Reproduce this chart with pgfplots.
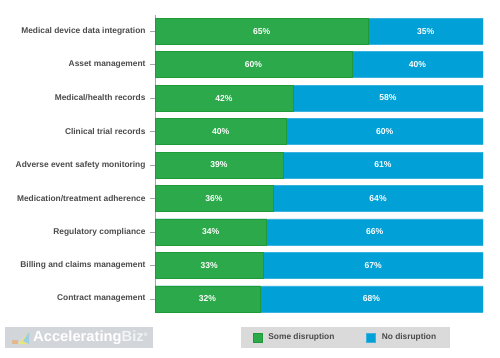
\documentclass[border=0pt]{standalone}
\usepackage{pgfplots}
\pgfplotsset{compat=1.18}
\usepackage{fontspec}
\setmainfont{Liberation Sans}
\definecolor{cgreen}{HTML}{2CA94A}
\definecolor{cgreenE}{HTML}{1E9A38}
\definecolor{cblue}{HTML}{01A0D6}
\definecolor{cblueE}{HTML}{3AB2E0}
\definecolor{lblgray}{HTML}{4A4A4A}
\definecolor{legbg}{HTML}{DADADA}
\definecolor{logobg}{HTML}{D2D6DA}
\begin{document}
\begin{tikzpicture}[x=1bp,y=1bp]
\useasboundingbox (0,0) rectangle (500,357);
\begin{axis}[
  at={(155bp,44bp)}, anchor=south west,
  scale only axis, width=328bp, height=298bp,
  xmin=0, xmax=100,
  ymin=-0.48, ymax=8.42, y dir=reverse,
  axis x line=none, axis y line*=left,
  axis line style={draw=gray!70},
  ytick={0,...,8},
  yticklabels={Medical device data integration, Asset management, Medical/health records, Clinical trial records, Adverse event safety monitoring, Medication/treatment adherence, Regulatory compliance, Billing and claims management, Contract management},
  yticklabel style={font=\bfseries\fontsize{8.4}{10}\selectfont, text=lblgray, xshift=-1bp},
  tick align=outside, major tick length=5bp,
  y tick style={draw=gray!70},
  legend columns=2,
  legend style={at={(0.581,-0.082)}, anchor=center, fill=legbg, draw=none,
    font=\bfseries\fontsize{8.4}{10}\selectfont, text=lblgray,
    inner xsep=12bp, inner ysep=4.5bp,
    /tikz/every odd column/.append style={column sep=4bp},
    /tikz/every even column/.append style={column sep=30bp}},
  legend image code/.code={\draw[#1] (0bp,-4.5bp) rectangle (9bp,4.5bp);},
]
% total (some + no disruption = 100) drawn as the blue bar, green on top
\addplot[xbar, bar width=26bp, bar shift=0pt, fill=cblue, draw=cblueE, forget plot] coordinates {(100,0) (100,1) (100,2) (100,3) (100,4) (100,5) (100,6) (100,7) (100,8)};
\addplot[xbar, bar width=26bp, bar shift=0pt, fill=cgreen, draw=cgreenE] coordinates {(65,0) (60,1) (42,2) (40,3) (39,4) (36,5) (34,6) (33,7) (32,8)};
\addlegendentry{Some disruption}
\addlegendimage{fill=cblue, draw=cblueE}
\addlegendentry{No disruption}
% labels at the centre of each segment
\addplot[draw=none, forget plot, nodes near coords, point meta=explicit symbolic,
  every node near coord/.style={anchor=center, font=\bfseries\fontsize{8.6}{10}\selectfont, text=white}]
  coordinates {(32.5,0)[65\%] (30,1)[60\%] (21,2)[42\%] (20,3)[40\%] (19.5,4)[39\%] (18,5)[36\%] (17,6)[34\%] (16.5,7)[33\%] (16,8)[32\%]};
\addplot[draw=none, forget plot, nodes near coords, point meta=explicit symbolic,
  every node near coord/.style={anchor=center, font=\bfseries\fontsize{8.6}{10}\selectfont, text=white}]
  coordinates {(82.5,0)[35\%] (80,1)[40\%] (71,2)[58\%] (70,3)[60\%] (69.5,4)[61\%] (68,5)[64\%] (67,6)[66\%] (66.5,7)[67\%] (66,8)[68\%]};
\end{axis}
\node[fill=logobg, minimum width=148bp, minimum height=21bp, anchor=south west, inner sep=0pt] at (5,9) {};
\fill[orange!35!logobg] (12,13) rectangle (18,17);
\fill[yellow!45!logobg] (18,13) -- (29,13) -- (29,25) -- cycle;
\fill[cyan!30!logobg] (23,16) -- (29,25) -- (29,13) -- cycle;
\node[anchor=west, inner sep=0pt, font=\bfseries\fontsize{14.8}{16}\selectfont, text=white] at (33,19) {Accelerating{\color{white!70!logobg}Biz}\textsuperscript{\tiny\textregistered}};
\end{tikzpicture}
\end{document}
